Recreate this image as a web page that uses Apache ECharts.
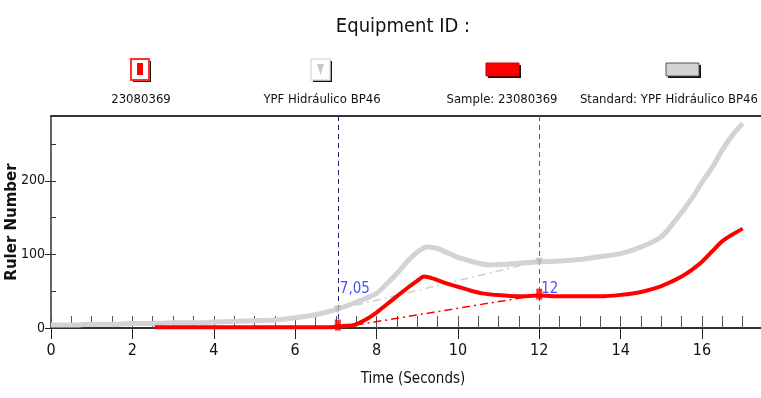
<!DOCTYPE html>
<html>
<head>
<meta charset="utf-8">
<script src="https://cdn.jsdelivr.net/npm/echarts@6/dist/echarts.min.js"></script>
<style>
html,body{margin:0;padding:0;background:#fff;}
#chart{width:761px;height:398px;}
</style>
</head>
<body>
<div id="chart"></div>
<script>
// ---- data ----
const titleText = 'Equipment ID :';
const legendNames = ['23080369', 'YPF Hidráulico BP46', 'Sample: 23080369', 'Standard: YPF Hidráulico BP46'];
const xTickLabels = [0, 2, 4, 6, 8, 10, 12, 14, 16];
const yTickLabels = [0, 100, 200];
const yMinorTicks = [0, 50, 100, 150, 200, 250];

const standardX = [0, 0.5, 1, 1.5, 2, 2.5, 3, 3.5, 4, 4.5, 5, 5.5, 6, 6.5, 7, 7.5, 8, 8.25, 8.5, 8.75, 9, 9.25, 9.5, 9.75, 10, 10.25, 10.5, 10.75, 11, 11.5, 12, 12.5, 13, 13.5, 14, 14.5, 15, 15.33, 15.75, 16, 16.25, 16.5, 16.75, 17];
const standardY = [4, 4, 5, 5, 6, 6, 7, 7, 8, 9, 10, 11, 14, 18, 25, 35, 47, 60, 74, 90, 103, 110, 108, 102, 96, 92, 88, 86, 86, 88, 90, 91, 93, 97, 101, 110, 124, 145, 176, 198, 218, 242, 262, 278];

const sampleX = [2.55, 3, 4, 5, 6, 6.9, 7.05, 7.25, 7.44, 7.75, 8, 8.25, 8.5, 8.75, 9, 9.17, 9.4, 9.7, 10, 10.3, 10.6, 10.9, 11.5, 12, 12.5, 13, 13.5, 14, 14.5, 15, 15.25, 15.5, 15.75, 16, 16.25, 16.5, 16.75, 17];
const sampleY = [1, 1, 1, 1, 1, 1, 2, 3, 4, 12, 21, 32, 43, 54, 64, 70, 67, 61, 56, 51, 47, 45, 43, 44, 43, 43, 43, 45, 49, 57, 63, 70, 79, 90, 104, 118, 127, 135];

const markTimes = [7.05, 12];
const markLabels = ['7,05', '12'];
const sampleMarkY = [4, 46];
const standardMarkY = [25, 90];
const sampleChordY = [0, 45];
const standardChordY = [25, 91];
const labelY = [53, 53];

// ---- chart ----
const FONT = '"Liberation Sans Narrow", "DejaVu Sans Condensed", "Arial Narrow", sans-serif';
const zip = (xs, ys) => xs.map((x, i) => [x, ys[i]]);
const minorX = [];
for (let v = 0; v <= 17.4; v += 0.5) minorX.push(v);

const chart = echarts.init(document.getElementById('chart'), null, {renderer: 'canvas'});

function shadowBox(x, y, w, h, fill, stroke, lw) {
  return [
    {type: 'rect', shape: {x: x + 2, y: y + 2, width: w, height: h}, style: {fill: '#111'}},
    {type: 'rect', shape: {x: x, y: y, width: w, height: h}, style: {fill: fill, stroke: stroke, lineWidth: lw}}
  ];
}

const LF = '13px ' + FONT;
const legendGraphics = [].concat(
  shadowBox(131, 59, 18, 21, '#fff', '#ff3030', 2),
  [{type: 'rect', shape: {x: 137, y: 63, width: 6, height: 12}, style: {fill: '#ff0000'}}],
  shadowBox(311, 59, 19, 21, '#fff', '#dddddd', 1.5),
  [{type: 'polygon', shape: {points: [[317, 64], [324, 64], [320.5, 75]]}, style: {fill: '#c8c8c8'}}],
  shadowBox(486, 63, 33, 13, '#ff0000', '#cc0000', 1),
  shadowBox(666, 63, 33, 13, '#d3d3d3', '#555', 1),
  [
    {type: 'text', style: {text: legendNames[0], x: 141, y: 100, align: 'center', verticalAlign: 'middle', font: LF, fill: '#111'}},
    {type: 'text', style: {text: legendNames[1], x: 322, y: 100, align: 'center', verticalAlign: 'middle', font: LF, fill: '#111'}},
    {type: 'text', style: {text: legendNames[2], x: 502, y: 100, align: 'center', verticalAlign: 'middle', font: LF, fill: '#111'}},
    {type: 'text', style: {text: legendNames[3], x: 758, y: 100, align: 'right', verticalAlign: 'middle', font: LF, fill: '#111'}},
    {type: 'text', style: {text: titleText, x: 403, y: 27, align: 'center', verticalAlign: 'middle', font: '20px ' + FONT, fill: '#111'}}
  ]
);

const option = {
  animation: false,
  backgroundColor: '#fff',
  graphic: legendGraphics,
  grid: {left: 51, right: 0, top: 116, bottom: 70, containLabel: false, outerBoundsMode: 'none'},
  xAxis: [
    {
      type: 'value', min: 0, max: 17.45, position: 'bottom',
      name: 'Time (Seconds)', nameLocation: 'middle', nameGap: 44,
      nameTextStyle: {fontFamily: FONT, fontSize: 15, color: '#111', padding: [0, 0, 0, 14]},
      axisLine: {show: true, onZero: false, lineStyle: {color: '#333', width: 2}},
      axisTick: {show: true, inside: false, length: 11, customValues: xTickLabels, lineStyle: {color: '#222'}},
      axisLabel: {customValues: xTickLabels, margin: 15, fontFamily: FONT, fontSize: 16, color: '#111'},
      splitLine: {show: false}
    },
    {
      type: 'value', min: 0, max: 17.45, position: 'bottom',
      axisLine: {show: false},
      axisTick: {show: true, inside: true, length: 12, customValues: minorX, lineStyle: {color: '#555'}},
      axisLabel: {show: false},
      splitLine: {show: false}
    },
    {
      type: 'value', min: 0, max: 17.45, position: 'top',
      axisLine: {show: true, onZero: false, lineStyle: {color: '#333', width: 2}},
      axisTick: {show: false}, axisLabel: {show: false}, splitLine: {show: false}
    }
  ],
  yAxis: [
    {
      type: 'value', min: 0, max: 288, position: 'left',
      name: 'Ruler Number', nameLocation: 'middle', nameGap: 31, nameRotate: 90, nameMoveOverlap: false,
      nameTextStyle: {fontFamily: '"DejaVu Sans", sans-serif', fontWeight: 'bold', fontSize: 15, color: '#111'},
      axisLine: {show: true, onZero: false, lineStyle: {color: '#333', width: 1.5}},
      axisTick: {show: true, inside: false, length: 6, customValues: yTickLabels, lineStyle: {color: '#222'}},
      axisLabel: {customValues: yTickLabels, margin: 6, fontFamily: FONT, fontSize: 14, color: '#111'},
      splitLine: {show: false}
    },
    {
      type: 'value', min: 0, max: 288, position: 'left',
      axisLine: {show: false},
      axisTick: {show: true, inside: true, length: 5, customValues: yMinorTicks, lineStyle: {color: '#333'}},
      axisLabel: {show: false}, splitLine: {show: false}
    }
  ],
  series: [
    {
      name: 'markers', type: 'line', data: [], silent: true,
      markLine: {
        silent: true, symbol: 'none', animation: false,
        label: {show: false},
        data: [
          {xAxis: markTimes[0], lineStyle: {color: '#22227a', type: [5, 4], width: 1}},
          {xAxis: markTimes[1], lineStyle: {color: '#4a4aff', type: [5, 4], width: 1}}
        ]
      }
    },
    {
      name: legendNames[3], type: 'line', data: zip(standardX, standardY),
      showSymbol: false, smooth: 0.3, z: 3,
      lineStyle: {color: '#d3d3d3', width: 5}
    },
    {
      name: 'standard chord', type: 'line', data: zip(markTimes, standardChordY),
      showSymbol: false, z: 4,
      lineStyle: {color: '#cfcfcf', width: 1.5, type: [8, 4, 2, 4]}
    },
    {
      name: 'sample chord', type: 'line', data: zip(markTimes, sampleChordY),
      showSymbol: false, z: 4,
      lineStyle: {color: '#ff0000', width: 1.5, type: [8, 4, 2, 4]}
    },
    {
      name: legendNames[2], type: 'line', data: zip(sampleX, sampleY),
      showSymbol: false, smooth: 0.3, z: 5,
      lineStyle: {color: '#ff0000', width: 4}
    },
    {
      name: legendNames[1], type: 'scatter', data: zip(markTimes, standardMarkY),
      symbol: 'triangle', symbolRotate: 180, symbolSize: 8, z: 6,
      itemStyle: {color: '#bdbdbd'}
    },
    {
      name: legendNames[0], type: 'scatter', data: zip(markTimes, sampleMarkY),
      symbol: 'rect', symbolSize: [6, 11], z: 6,
      itemStyle: {color: '#ff0000'}
    },
    {
      name: 'mark labels', type: 'scatter', data: zip(markTimes, labelY),
      symbolSize: 0, z: 7,
      label: {
        show: true, position: 'insideLeft', offset: [-3, 0],
        formatter: p => markLabels[p.dataIndex],
        fontFamily: FONT, fontSize: 15, color: '#2222ff'
      }
    }
  ]
};
chart.setOption(option);
</script>
</body>
</html>
